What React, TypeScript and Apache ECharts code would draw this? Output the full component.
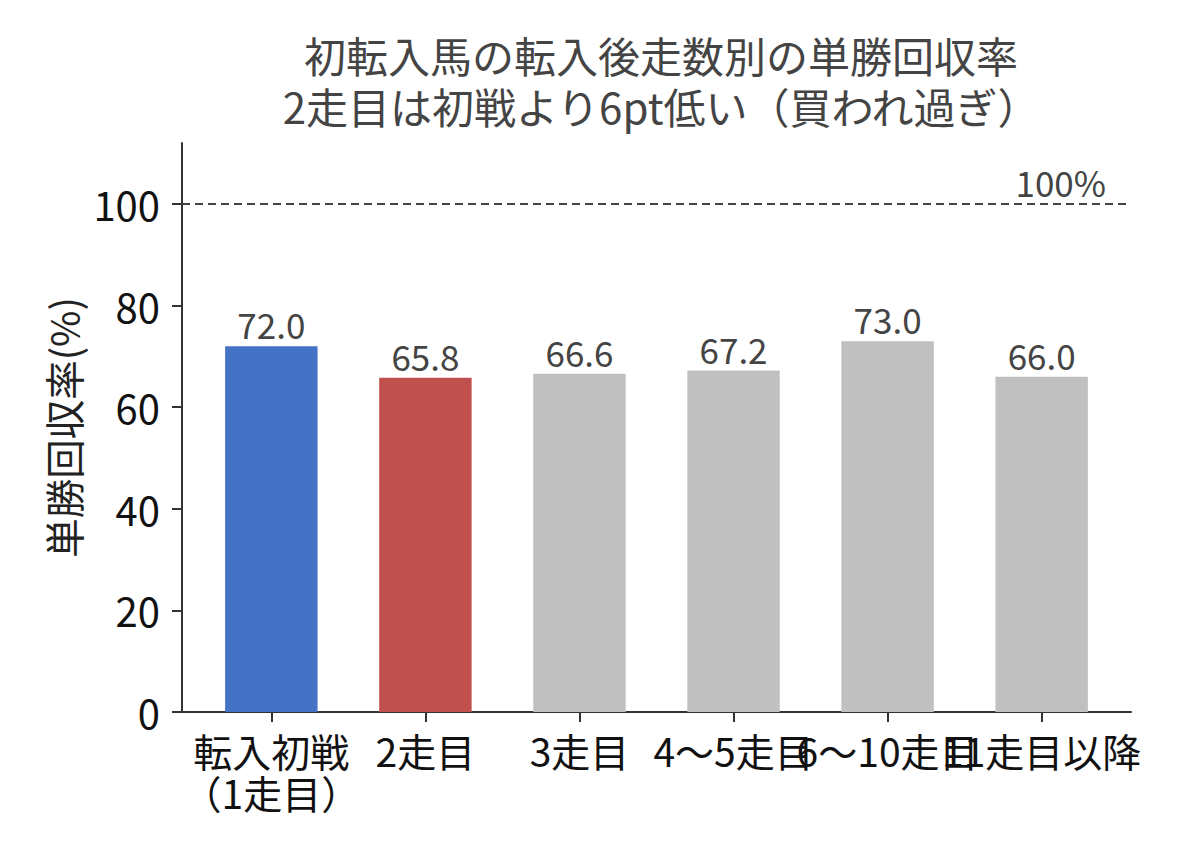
import React, { useEffect, useRef } from "react";
import * as echarts from "echarts";

const categories = ["転入初戦\n（1走目）", "2走目", "3走目", "4〜5走目", "6〜10走目", "11走目以降"];
const values = [72.0, 65.8, 66.6, 67.2, 73.0, 66.0];
const barColors = ["#4472C4", "#C0504D", "#C0C0C0", "#C0C0C0", "#C0C0C0", "#C0C0C0"];
const yTicks = [0, 20, 40, 60, 80, 100];
const xPositions = [0, 1, 2, 3, 4, 5];
const referenceLine = 100;

const FONT = "'Noto Sans CJK JP', 'Noto Sans', sans-serif";

// plot area geometry
const GRID_LEFT = 182;
const GRID_RIGHT = 57;
const GRID_TOP = 143;
const GRID_BOTTOM = 146;
const X_MIN = -0.58;
const X_MAX = 5.58;
const PLOT_W = 1188 - GRID_LEFT - GRID_RIGHT;
const UNIT = PLOT_W / (X_MAX - X_MIN);

export default function App() {
  const ref = useRef<HTMLDivElement>(null);
  useEffect(() => {
    if (!ref.current) return;
    const chart = echarts.init(ref.current, undefined, { renderer: "svg" });
    // second grid: category bands centred on each bar, used only for labels/ticks
    const catLeft = GRID_LEFT + (-0.5 - X_MIN) * UNIT;
    const catRight = GRID_RIGHT + (X_MAX - 5.5) * UNIT;
    chart.setOption({
      animation: false,
      textStyle: { fontFamily: FONT },
      title: {
        text: "初転入馬の転入後走数別の単勝回収率\n2走目は初戦より6pt低い（買われ過ぎ）",
        left: 656,
        top: 24,
        textAlign: "center",
        textStyle: {
          fontFamily: FONT,
          fontSize: 42,
          fontWeight: "normal",
          color: "#444444",
          lineHeight: 51,
        },
      },
      grid: [
        { left: GRID_LEFT, right: GRID_RIGHT, top: GRID_TOP, bottom: GRID_BOTTOM, containLabel: false },
        { left: catLeft, right: catRight, top: GRID_TOP, bottom: GRID_BOTTOM, containLabel: false },
      ],
      xAxis: [
        {
          type: "value",
          gridIndex: 0,
          min: X_MIN,
          max: X_MAX,
          splitLine: { show: false },
          axisLine: { show: true, onZero: false, lineStyle: { color: "#333333", width: 2 } },
          axisTick: { show: false },
          axisLabel: { show: false },
        },
        {
          type: "category",
          gridIndex: 1,
          data: categories,
          boundaryGap: true,
          splitLine: { show: false },
          axisLine: { show: false, onZero: false },
          axisTick: { show: true, alignWithLabel: true, interval: 0, length: 10, lineStyle: { color: "#333333", width: 2 } },
          axisLabel: {
            interval: 0,
            fontSize: 39,
            color: "#111111",
            margin: 17,
            lineHeight: 42,
            fontFamily: FONT,
            hideOverlap: false,
          },
        },
      ],
      yAxis: [
        {
          type: "value",
          gridIndex: 0,
          min: 0,
          max: 112,
          name: "単勝回収率(%)",
          nameLocation: "middle",
          nameGap: 100,
          nameTextStyle: { fontSize: 39.5, color: "#222222", fontFamily: FONT },
          splitLine: { show: false },
          axisLine: { show: true, onZero: false, lineStyle: { color: "#333333", width: 2 } },
          axisTick: { show: true, customValues: yTicks, length: 10, lineStyle: { color: "#333333", width: 2 } },
          axisLabel: {
            customValues: yTicks,
            fontSize: 40,
            color: "#111111",
            margin: 22,
            fontFamily: FONT,
          },
        },
        {
          type: "value",
          gridIndex: 1,
          min: 0,
          max: 112,
          show: false,
        },
      ],
      series: [
        {
          type: "bar",
          xAxisIndex: 0,
          yAxisIndex: 0,
          barWidth: 0.6 * UNIT,
          data: values.map((v, i) => ({
            value: [xPositions[i], v],
            itemStyle: { color: barColors[i] },
          })),
          label: {
            show: true,
            position: "top",
            distance: 5,
            fontSize: 35,
            color: "#444444",
            fontFamily: FONT,
            formatter: (p: any) => p.value[1].toFixed(1),
          },
          markLine: {
            silent: true,
            symbol: "none",
            lineStyle: { color: "#444444", width: 2, type: [8, 5] },
            label: {
              show: true,
              position: "insideEndTop",
              formatter: "100%",
              fontSize: 35,
              color: "#444444",
              fontFamily: FONT,
              padding: [0, 20, 0, 0],
            },
            data: [{ yAxis: referenceLine }],
          },
        },
      ],
    });
    return () => chart.dispose();
  }, []);
  return (
    <div
      ref={ref}
      style={{ position: "absolute", left: 0, top: 0, width: 1188, height: 858, background: "#ffffff" }}
    />
  );
}
